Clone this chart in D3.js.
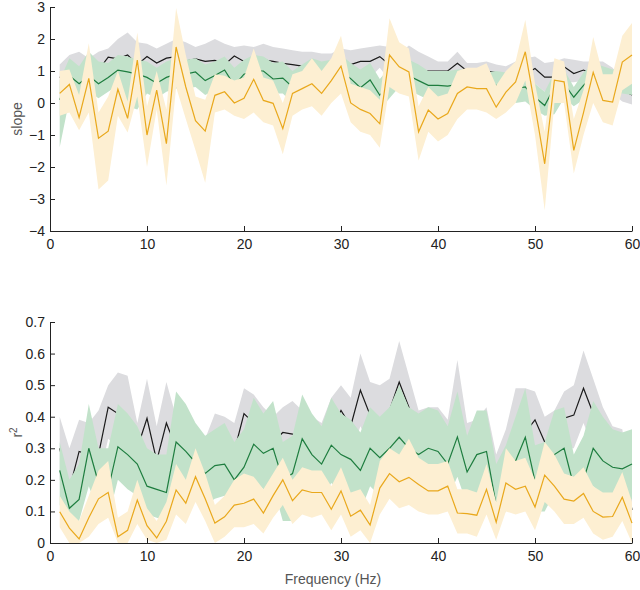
<!DOCTYPE html>
<html><head><meta charset="utf-8">
<script src="https://cdn.jsdelivr.net/npm/d3@7"></script>
<style>
body{margin:0;background:#fff;}
text{font-family:"Liberation Sans",Arial,Helvetica,sans-serif;}
</style></head>
<body><svg id="c" width="640" height="590"></svg>
<script>
// ---------- data ----------
const freq = d3.range(1, 61);

// slope panel
const slopeBlack = [0.8,1.0,1.1,1.0,1.03,1.43,1.38,1.5,1.2,1.45,1.25,1.4,1.45,1.31,1.38,1.3,1.33,1.2,1.47,1.3,
1.35,1.35,1.3,1.24,1.2,1.15,1.2,1.15,1.1,1.2,1.2,1.3,1.3,1.45,1.2,1.2,1.3,1.05,1.0,1.0,
1.0,1.24,1.0,1.0,1.0,0.95,0.76,0.9,0.9,1.08,0.81,0.81,1.13,0.92,1.03,0.9,0.85,0.7,0.4,0.25];
const slopeBlackHi = [1.2,1.5,1.6,1.4,1.6,1.7,2.0,2.2,1.9,1.85,1.7,1.85,2.0,1.9,1.75,1.85,2.0,1.85,1.75,1.8,
1.75,1.85,1.75,1.7,1.65,1.6,1.6,1.55,1.55,1.7,1.65,1.7,1.75,1.8,1.75,1.55,1.8,1.6,1.45,1.3,
1.3,1.6,1.25,1.25,1.3,1.2,1.15,1.3,1.4,1.45,1.25,1.3,1.4,1.35,1.3,1.3,1.3,1.1,0.7,0.5];
const slopeBlackLo = [0.3,0.5,0.6,0.5,0.5,0.9,0.85,0.95,0.7,0.95,0.75,0.9,0.95,0.8,0.85,0.8,0.8,0.7,0.95,0.8,
0.85,0.85,0.8,0.75,0.7,0.65,0.7,0.65,0.6,0.7,0.7,0.8,0.8,1.1,0.7,0.7,0.8,0.55,0.5,0.5,
0.5,0.75,0.5,0.5,0.5,0.45,0.3,0.4,0.4,0.6,0.35,0.35,0.65,0.65,0.7,0.45,0.4,0.3,0.05,-0.05];

const slopeGreen = [0.1,0.85,0.6,0.85,0.6,0.8,1.03,0.97,0.9,0.8,0.62,0.8,0.9,0.9,0.97,0.7,0.86,1.03,0.55,0.9,
1.0,1.0,0.75,0.78,0.5,0.75,0.9,0.75,0.9,1.0,0.76,0.48,0.72,0.24,0.6,0.95,0.85,0.7,0.55,0.55,
0.53,0.58,0.6,0.55,0.5,0.55,0.5,0.45,0.5,0.18,-0.08,0.5,0.6,0.18,0.55,0.85,0.8,0.7,0.7,0.65];
const slopeGreenHi = [0.7,1.4,1.15,1.6,1.3,1.25,1.5,1.45,1.35,1.3,1.1,1.3,1.4,1.35,1.4,1.2,1.3,1.45,1.1,1.35,
1.5,1.45,1.25,1.3,1.0,1.2,1.4,1.3,1.35,1.5,1.25,1.05,1.25,0.75,1.1,1.4,1.35,1.2,1.0,1.0,
1.0,1.05,1.05,1.0,0.95,1.0,0.95,0.9,1.0,0.6,0.35,0.95,1.05,0.5,0.95,1.25,1.15,1.05,1.1,1.05];
const slopeGreenLo = [-1.38,0.1,-0.2,0.35,0.15,0.35,0.55,-0.1,-0.2,0.3,0.15,0.35,0.45,0.45,0.5,0.25,0.4,0.55,0.1,0.45,
0.5,0.5,0.3,0.3,0.0,0.3,0.45,0.3,0.4,0.5,0.3,0.0,0.25,-0.2,0.15,0.5,0.4,0.25,0.1,0.1,
0.05,0.1,0.15,0.1,0.0,0.1,0.05,0.0,0.05,-0.2,-0.4,-0.35,0.15,-0.1,0.1,0.4,0.35,0.3,0.3,0.25];

const slopeYellow = [0.3,0.58,-0.45,0.77,-1.1,-0.88,0.43,-0.48,1.34,-1.0,0.4,-1.27,1.75,0.5,-0.55,-0.88,0.24,0.35,0.0,0.15,
0.74,0.08,-0.01,-0.8,0.3,0.45,0.6,0.3,0.7,1.15,0.0,-0.2,-0.33,-0.65,1.5,1.13,0.97,-0.9,-0.22,-0.5,
-0.33,0.3,0.5,0.45,0.45,-0.13,0.34,0.66,1.6,-0.1,-1.9,0.71,0.66,-1.48,-0.3,0.96,0.08,0.03,1.28,1.5];
const slopeYellowHi = [1.0,1.05,0.25,1.87,-0.3,0.2,1.0,0.05,2.2,-0.1,1.0,-0.2,2.97,1.5,0.2,0.1,0.9,0.85,0.7,0.8,
1.7,0.8,0.7,0.0,0.9,1.0,1.4,1.0,1.4,2.1,0.6,0.5,0.4,0.1,2.65,1.9,1.7,-0.1,0.5,0.2,
0.3,1.0,1.1,1.1,1.24,0.55,1.0,1.3,2.6,0.6,-0.9,1.4,1.3,-0.5,0.4,2.06,0.9,0.9,2.1,2.5];
const slopeYellowLo = [-0.4,-0.3,-0.85,-0.3,-2.7,-2.42,-0.4,-0.92,0.2,-2.0,-0.2,-2.58,0.5,-0.5,-1.48,-2.49,-0.3,-0.2,-0.4,-0.5,
-0.3,-0.6,-0.7,-1.6,-0.4,-0.2,-0.1,-0.4,0.0,0.3,-0.6,-0.9,-1.0,-1.4,0.5,0.3,0.2,-1.8,-0.9,-1.2,
-1.0,-0.5,-0.2,-0.2,-0.3,-0.5,-0.3,0.0,0.7,-1.0,-3.35,0.0,0.0,-2.2,-1.0,0.0,-0.6,-0.7,0.4,0.6];

// r^2 panel
const r2Black = [0.3,0.17,0.29,0.28,0.28,0.43,0.41,0.35,0.3,0.395,0.26,0.38,0.3,0.29,0.28,0.25,0.28,0.3,0.29,0.41,
0.38,0.33,0.32,0.35,0.345,0.33,0.32,0.3,0.36,0.42,0.37,0.484,0.405,0.39,0.42,0.51,0.43,0.33,0.3,0.335,
0.31,0.36,0.3,0.3,0.26,0.19,0.28,0.3,0.35,0.39,0.32,0.33,0.395,0.405,0.49,0.41,0.35,0.3,0.25,0.105];
const r2BlackHi = [0.4,0.3,0.39,0.38,0.42,0.5,0.54,0.53,0.38,0.52,0.37,0.51,0.4,0.38,0.37,0.33,0.41,0.4,0.38,0.49,
0.47,0.43,0.4,0.43,0.45,0.42,0.4,0.38,0.46,0.5,0.46,0.6,0.51,0.5,0.52,0.64,0.53,0.42,0.43,0.43,
0.39,0.58,0.38,0.39,0.43,0.28,0.36,0.49,0.49,0.48,0.4,0.42,0.48,0.5,0.61,0.52,0.43,0.37,0.36,0.17];
const r2BlackLo = [0.2,0.08,0.2,0.2,0.2,0.33,0.3,0.25,0.2,0.27,0.17,0.27,0.2,0.2,0.19,0.17,0.19,0.2,0.2,0.31,
0.28,0.24,0.23,0.26,0.25,0.24,0.23,0.22,0.27,0.3,0.28,0.37,0.3,0.29,0.32,0.38,0.33,0.24,0.21,0.25,
0.22,0.26,0.21,0.21,0.17,0.1,0.19,0.2,0.25,0.29,0.23,0.24,0.3,0.3,0.38,0.3,0.25,0.2,0.15,0.04];

const r2Green = [0.23,0.11,0.138,0.3,0.19,0.17,0.305,0.28,0.25,0.18,0.17,0.16,0.32,0.29,0.255,0.22,0.245,0.25,0.2,0.24,
0.313,0.284,0.3,0.2,0.22,0.33,0.28,0.25,0.31,0.28,0.265,0.23,0.3,0.27,0.3,0.335,0.3,0.28,0.3,0.29,
0.25,0.336,0.225,0.28,0.29,0.12,0.17,0.26,0.335,0.196,0.2,0.28,0.3,0.18,0.2,0.3,0.26,0.24,0.235,0.25];
const r2GreenHi = [0.32,0.2,0.25,0.44,0.3,0.3,0.44,0.41,0.37,0.3,0.28,0.28,0.48,0.44,0.38,0.34,0.36,0.38,0.32,0.36,
0.46,0.41,0.45,0.32,0.34,0.47,0.41,0.37,0.46,0.41,0.39,0.35,0.43,0.4,0.43,0.5,0.43,0.41,0.43,0.42,
0.37,0.48,0.34,0.42,0.42,0.25,0.31,0.4,0.49,0.31,0.32,0.42,0.43,0.28,0.34,0.45,0.4,0.36,0.35,0.36];
const r2GreenLo = [0.12,0.05,0.07,0.18,0.1,0.08,0.2,0.17,0.15,0.09,0.08,0.07,0.2,0.18,0.15,0.12,0.14,0.15,0.1,0.14,
0.2,0.17,0.18,0.07,0.07,0.2,0.16,0.14,0.19,0.16,0.15,0.1,0.18,0.15,0.18,0.2,0.17,0.16,0.18,0.17,
0.14,0.21,0.12,0.16,0.17,0.06,0.1,0.15,0.21,0.1,0.1,0.16,0.18,0.08,0.12,0.18,0.15,0.13,0.12,0.14];

const r2Yellow = [0.099,0.047,0.013,0.08,0.14,0.16,0.02,0.04,0.136,0.055,0.016,0.069,0.168,0.126,0.21,0.14,0.063,0.083,0.12,0.126,
0.139,0.095,0.15,0.2,0.134,0.168,0.16,0.16,0.107,0.165,0.085,0.104,0.057,0.174,0.22,0.194,0.208,0.185,0.165,0.165,
0.18,0.095,0.093,0.088,0.17,0.066,0.19,0.17,0.18,0.114,0.215,0.18,0.139,0.133,0.157,0.1,0.082,0.084,0.145,0.063];
const r2YellowHi = [0.15,0.1,0.07,0.15,0.23,0.26,0.08,0.1,0.2,0.11,0.07,0.13,0.25,0.2,0.3,0.22,0.12,0.15,0.2,0.22,
0.21,0.17,0.22,0.27,0.2,0.24,0.23,0.23,0.18,0.24,0.16,0.17,0.12,0.26,0.3,0.28,0.33,0.27,0.25,0.25,
0.26,0.17,0.17,0.16,0.25,0.13,0.3,0.26,0.27,0.2,0.32,0.28,0.22,0.21,0.24,0.18,0.16,0.16,0.225,0.13];
const r2YellowLo = [0.05,0.0,0.0,0.02,0.06,0.08,0.0,0.0,0.06,0.01,0.0,0.01,0.09,0.06,0.13,0.07,0.0,0.02,0.05,0.05,
0.06,0.03,0.08,0.12,0.06,0.09,0.08,0.09,0.04,0.09,0.02,0.04,0.0,0.09,0.14,0.11,0.12,0.1,0.09,0.09,
0.1,0.03,0.03,0.02,0.09,0.01,0.1,0.09,0.1,0.04,0.13,0.1,0.06,0.06,0.08,0.03,0.01,0.02,0.07,0.0];

const xTicks = [0,10,20,30,40,50,60];
const slopeTicks = [-4,-3,-2,-1,0,1,2,3];
const r2Ticks = [0,0.1,0.2,0.3,0.4,0.5,0.6,0.7];
const r2TickLabels = ["0","0.1","0.2","0.3","0.4","0.5","0.6","0.7"];

// ---------- drawing ----------
const svg = d3.select("#c");
const left = 50, right = 632;
const x = d3.scaleLinear().domain([0,60]).range([left,right]);

const colors = {
  grayBand:"#dcdcdf", black:"#1a1a1a",
  greenBand:"#c2e2ca", green:"#1e7d3f",
  yellowBand:"#fdefd2", yellow:"#e9a81c"
};

function panel(y, series){
  const g = svg.append("g");
  series.forEach(s => {
    const rows = freq.map((f,i)=>({f, m:s.mean[i], lo:s.lo[i], hi:s.hi[i]}));
    g.append("path").datum(rows)
      .attr("fill", s.band).attr("stroke","none")
      .attr("d", d3.area().x(d=>x(d.f)).y0(d=>y(d.lo)).y1(d=>y(d.hi)));
    g.append("path").datum(rows)
      .attr("fill","none").attr("stroke", s.line).attr("stroke-width",1.2)
      .attr("stroke-linejoin","miter")
      .attr("d", d3.line().x(d=>x(d.f)).y(d=>y(d.m)));
  });
  return g;
}

function axes(y, yTicks, yFmt, yTop, yBot){
  const xa = svg.append("g").attr("transform",`translate(0,${yBot})`)
    .call(d3.axisBottom(x).tickValues(xTicks).tickSizeInner(-5).tickSizeOuter(0).tickPadding(8));
  const ya = svg.append("g").attr("transform",`translate(${left},0)`)
    .call(d3.axisLeft(y).tickValues(yTicks).tickFormat(yFmt).tickSizeInner(-5).tickSizeOuter(0).tickPadding(5));
  [xa,ya].forEach(a=>{
    a.selectAll("path.domain").attr("stroke","#222").attr("stroke-width",1);
    a.selectAll("line").attr("stroke","#222").attr("stroke-width",1);
    a.selectAll("text").attr("font-size",14).attr("fill","#222")
      .attr("font-family","'Liberation Sans',Arial,sans-serif");
  });
}

// top panel
const yS = d3.scaleLinear().domain([-4,3]).range([231,7]);
panel(yS, [
  {mean:slopeBlack, lo:slopeBlackLo, hi:slopeBlackHi, band:colors.grayBand, line:colors.black},
  {mean:slopeGreen, lo:slopeGreenLo, hi:slopeGreenHi, band:colors.greenBand, line:colors.green},
  {mean:slopeYellow, lo:slopeYellowLo, hi:slopeYellowHi, band:colors.yellowBand, line:colors.yellow}
]);
axes(yS, slopeTicks, d3.format("d"), 7, 231);

// bottom panel
const yR = d3.scaleLinear().domain([0,0.7]).range([543,322]);
panel(yR, [
  {mean:r2Black, lo:r2BlackLo, hi:r2BlackHi, band:colors.grayBand, line:colors.black},
  {mean:r2Green, lo:r2GreenLo, hi:r2GreenHi, band:colors.greenBand, line:colors.green},
  {mean:r2Yellow, lo:r2YellowLo, hi:r2YellowHi, band:colors.yellowBand, line:colors.yellow}
]);
axes(yR, r2Ticks, (d,i)=>r2TickLabels[i], 322, 543);

// labels
svg.append("text").attr("transform",`translate(22,${(7+231)/2}) rotate(-90)`)
  .attr("text-anchor","middle").attr("font-size",14).attr("fill","#555").text("slope");
const r2 = svg.append("text").attr("transform",`translate(22,${(322+543)/2}) rotate(-90)`)
  .attr("text-anchor","middle").attr("font-size",14).attr("fill","#555");
r2.append("tspan").text("r");
r2.append("tspan").attr("dy",-5).attr("font-size",10).text("2");
svg.append("text").attr("x",333).attr("y",584).attr("text-anchor","middle")
  .attr("font-size",14).attr("fill","#555").text("Frequency (Hz)");
</script>
</body></html>
